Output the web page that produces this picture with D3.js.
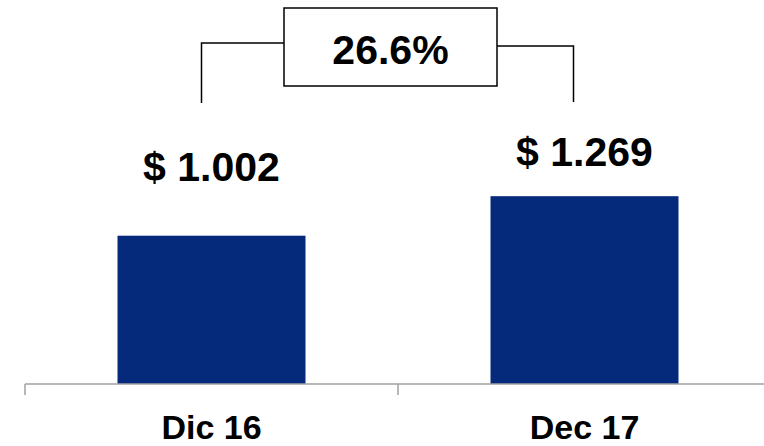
<!DOCTYPE html>
<html>
<head>
<meta charset="utf-8">
<script src="https://cdn.jsdelivr.net/npm/d3@7"></script>
<style>
  html, body { margin: 0; padding: 0; background: #fff; }
  text { font-family: "Liberation Sans", Arial, sans-serif; font-weight: bold; fill: #000; }
</style>
</head>
<body>
<div id="chart"></div>
<script>
// ---- DATA ----
const categories = ["Dic 16", "Dec 17"];
const values = [1.002, 1.269];
const valueLabels = ["$ 1.002", "$ 1.269"];
const growthLabel = "26.6%";

const width = 764;
const height = 446;
const axisY = 384;

const svg = d3.select("#chart")
  .append("svg")
  .attr("width", width)
  .attr("height", height);

// ---- SCALES ----
const x = d3.scaleBand()
  .domain(categories)
  .range([25, 771])
  .paddingInner(0.496)
  .paddingOuter(0.248);

const y = d3.scaleLinear()
  .domain([0, 1.5])
  .range([axisY, 162]);

// ---- BARS ----
svg.selectAll("rect.bar")
  .data(values)
  .enter()
  .append("rect")
  .attr("class", "bar")
  .attr("x", (d, i) => x(categories[i]))
  .attr("y", d => y(d))
  .attr("width", x.bandwidth())
  .attr("height", d => y(0) - y(d))
  .attr("fill", "#062a7b");

// ---- AXIS (ticks between categories) ----
const x0 = x.range()[0];
svg.append("line")
  .attr("x1", x0).attr("x2", width)
  .attr("y1", axisY).attr("y2", axisY)
  .attr("stroke", "#a0a0a0").attr("stroke-width", 1.5);

svg.selectAll("line.tick")
  .data(d3.range(categories.length + 1))
  .enter()
  .append("line")
  .attr("class", "tick")
  .attr("x1", i => x0 + i * x.step())
  .attr("x2", i => x0 + i * x.step())
  .attr("y1", axisY).attr("y2", axisY + 11)
  .attr("stroke", "#a0a0a0").attr("stroke-width", 1.5);

// ---- CATEGORY LABELS ----
svg.selectAll("text.cat")
  .data(categories)
  .enter()
  .append("text")
  .attr("class", "cat")
  .attr("x", d => x(d) + x.bandwidth() / 2)
  .attr("y", 439)
  .attr("text-anchor", "middle")
  .style("font-size", "34px")
  .text(d => d);

// ---- VALUE LABELS ----
const labelGap = [55, 30];
svg.selectAll("text.val")
  .data(values)
  .enter()
  .append("text")
  .attr("class", "val")
  .attr("x", (d, i) => x(categories[i]) + x.bandwidth() / 2)
  .attr("y", (d, i) => y(d) - labelGap[i])
  .attr("text-anchor", "middle")
  .style("font-size", "41px")
  .text((d, i) => valueLabels[i]);

// ---- GROWTH BRACKET ----
const leftX = x(categories[0]) + x.bandwidth() / 2 - 10;
const rightX = x(categories[1]) + x.bandwidth() / 2 - 11;
const boxL = 284, boxR = 497, boxT = 8, boxB = 86;

svg.append("path")
  .attr("d", `M${leftX},103 V43 H${boxL}`)
  .attr("fill", "none").attr("stroke", "#000").attr("stroke-width", 1.5);

svg.append("path")
  .attr("d", `M${boxR},46 H${rightX} V102`)
  .attr("fill", "none").attr("stroke", "#000").attr("stroke-width", 1.5);

svg.append("rect")
  .attr("x", boxL).attr("y", boxT)
  .attr("width", boxR - boxL).attr("height", boxB - boxT)
  .attr("fill", "#fff").attr("stroke", "#000").attr("stroke-width", 1.5);

svg.append("text")
  .attr("x", (boxL + boxR) / 2)
  .attr("y", 64)
  .attr("text-anchor", "middle")
  .style("font-size", "41px")
  .text(growthLabel);
</script>
</body>
</html>
